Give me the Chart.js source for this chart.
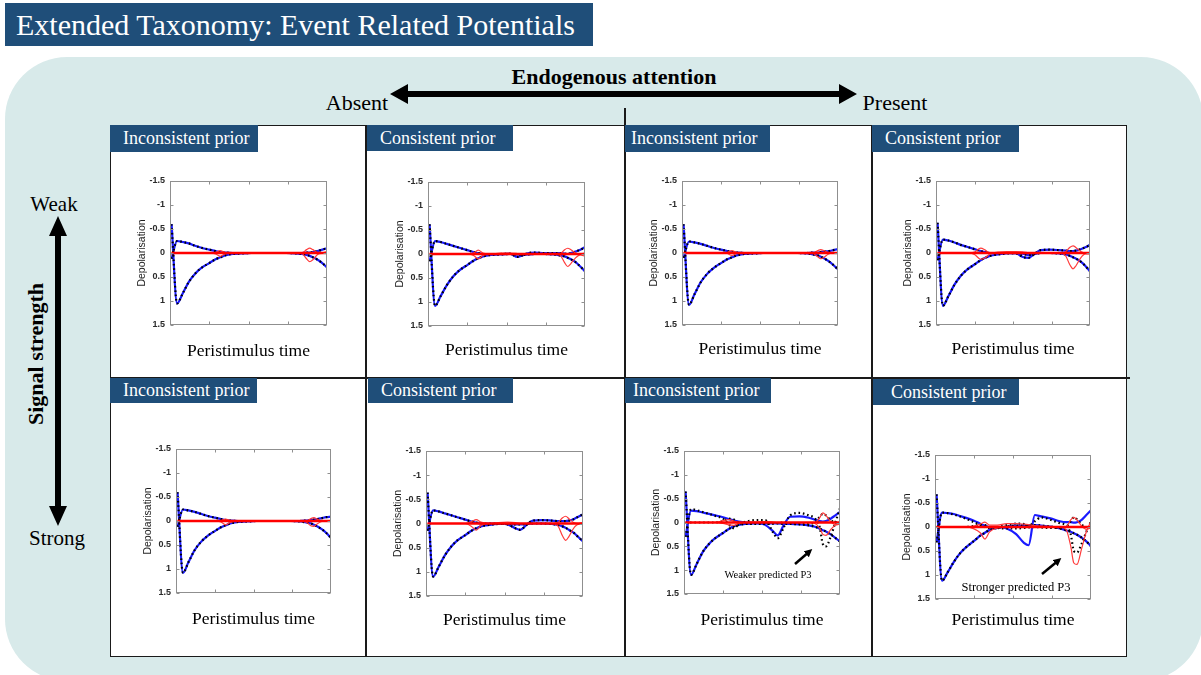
<!DOCTYPE html>
<html><head><meta charset="utf-8">
<script src="https://cdn.jsdelivr.net/npm/chart.js@4.4.1/dist/chart.umd.min.js"></script>
<style>
html,body{margin:0;padding:0;background:#fff;}
#stage{position:relative;width:1201px;height:675px;overflow:hidden;background:#fff;font-family:"Liberation Serif","Times New Roman",serif;}
.abs{position:absolute;}
.ctr{position:absolute;transform:translate(-50%,-50%);white-space:nowrap;line-height:1;color:#000;}
#teal{left:5px;top:57px;width:1198px;height:624px;background:#d8eaea;border-radius:62px;}
#title{left:5px;top:3px;width:577px;height:43px;background:#1f4e79;color:#fff;font-size:30px;line-height:43px;padding-left:11px;white-space:nowrap;}
#grid{left:110px;top:125px;width:1017px;height:532px;background:#fff;border:1.5px solid #1a1a1a;box-sizing:border-box;}
.vl{position:absolute;width:1.5px;background:#1a1a1a;}
.hl{position:absolute;height:1.5px;background:#1a1a1a;}
.badge{position:absolute;background:#1f4e79;color:#fff;font-size:18px;padding-left:13px;box-sizing:border-box;white-space:nowrap;}
canvas{position:absolute;}
svg{position:absolute;left:0;top:0;}
</style>
</head>
<body>
<div id="stage">
  <div id="teal" class="abs"></div>
  <div id="title" class="abs">Extended Taxonomy: Event Related Potentials</div>
  <div class="ctr" style="left:614px;top:77px;font-size:22px;font-weight:bold;">Endogenous attention</div>
  <div class="ctr" style="left:357px;top:103px;font-size:22px;">Absent</div>
  <div class="ctr" style="left:895px;top:103px;font-size:22px;">Present</div>
  <div class="ctr" style="left:54px;top:204px;font-size:21px;">Weak</div>
  <div class="ctr" style="left:57px;top:538px;font-size:21px;">Strong</div>
  <div class="ctr" style="left:36px;top:354px;font-size:22px;font-weight:bold;transform:translate(-50%,-50%) rotate(-90deg);">Signal strength</div>
  <div id="grid" class="abs"></div>
  <div class="vl" style="left:365px;top:125px;height:532px;"></div>
  <div class="vl" style="left:624px;top:108px;height:549px;"></div>
  <div class="vl" style="left:871px;top:125px;height:532px;"></div>
  <div class="hl" style="left:110px;top:377px;width:1020px;"></div>

  <div class="badge" style="left:110px;top:125px;width:148px;height:27px;line-height:27px;">Inconsistent prior</div>
  <div class="badge" style="left:367px;top:125px;width:146px;height:26px;line-height:26px;">Consistent prior</div>
  <div class="badge" style="left:625px;top:125px;width:145px;height:27px;line-height:27px;padding-left:6px;">Inconsistent prior</div>
  <div class="badge" style="left:872px;top:125px;width:147px;height:27px;line-height:27px;">Consistent prior</div>
  <div class="badge" style="left:110px;top:378px;width:147px;height:25px;line-height:25px;">Inconsistent prior</div>
  <div class="badge" style="left:368px;top:378px;width:145px;height:25px;line-height:25px;">Consistent prior</div>
  <div class="badge" style="left:625px;top:378px;width:146px;height:25px;line-height:25px;padding-left:8px;">Inconsistent prior</div>
  <div class="badge" style="left:873px;top:379px;width:146px;height:26px;line-height:26px;padding-left:18px;">Consistent prior</div>

  <canvas id="c0"></canvas><canvas id="c1"></canvas><canvas id="c2"></canvas><canvas id="c3"></canvas>
  <canvas id="c4"></canvas><canvas id="c5"></canvas><canvas id="c6"></canvas><canvas id="c7"></canvas>

  <div class="ctr" style="left:768px;top:575px;font-size:10.5px;">Weaker predicted P3</div>
  <div class="ctr" style="left:1016px;top:587px;font-size:12.5px;">Stronger predicted P3</div>

  <svg width="1201" height="675" viewBox="0 0 1201 675">
    <defs>
      <marker id="ah" markerWidth="8" markerHeight="8" refX="5" refY="4" orient="auto" markerUnits="userSpaceOnUse">
        <path d="M0,0 L8,4 L0,8 z" fill="#000"/>
      </marker>
    </defs>
    <polygon fill="#000" points="390,94 408,84 408,91 839,91 839,84 857,94 839,104 839,97 408,97 408,104"/>
    <polygon fill="#000" points="58,216 67,236 61,236 61,506 67,506 58,526 49,506 55,506 55,236 49,236"/>
    <line x1="795" y1="564" x2="810" y2="551" stroke="#000" stroke-width="2.5" marker-end="url(#ah)"/>
    <line x1="1042" y1="574" x2="1059" y2="560" stroke="#000" stroke-width="2.5" marker-end="url(#ah)"/>
  </svg>
</div>
<script>
// ---- data ----
const time = [0.01,0.045,0.08,0.12,0.16,0.2,0.25,0.29,0.32,0.35,0.4,0.46,0.52,0.57,0.6,0.64,0.68,0.74,0.8,0.84,0.87,0.89,0.91,0.94,0.97,1.0];
const yTickValues = [-1.5,-1,-0.5,0,0.5,1,1.5];
const yTickLabels = ['-1.5','-1','-0.5','0','0.5','1','1.5'];
const xTickValues = [0.25,0.5,0.75];
const zeroLine = [0,0,0,0,0,0,0,0,0,0,0,0,0,0,0,0,0,0,0,0,0,0,0,0,0,0];

// Weak signal, attention absent, inconsistent prior
const p1BlueA = [-0.6,1.05,0.85,0.6,0.43,0.31,0.21,0.13,0.09,0.05,0.02,0.01,0,0,0,0,0,0,0.01,0.02,0.04,0.06,0.09,0.14,0.21,0.3];
const p1BlueB = [0.12,-0.25,-0.23,-0.2,-0.15,-0.11,-0.07,-0.04,-0.02,-0.01,0,0,0,0,0,0,0,0,0,0,-0.01,-0.01,-0.02,-0.04,-0.07,-0.1];
const p1RedUp = [0,0,0,0,0,0,0,-0.01,-0.05,-0.01,0,0,0,0,0,0,0,0,0,0,-0.07,-0.1,-0.07,-0.01,0,-0.03];
const p1RedDown = [0,0,0,0,0,0,0,0.02,0.07,0.02,0,0,0,0,0,0,0,0,0,0.01,0.12,0.18,0.14,0.03,0.01,0.01];
// Weak signal, attention absent, consistent prior
const p2BlueA = [-0.62,1.08,0.88,0.65,0.47,0.34,0.23,0.14,0.09,0.05,0.02,0.01,0,0.01,0.02,0.01,0,0,0.01,0.03,0.05,0.08,0.11,0.17,0.26,0.36];
const p2BlueB = [0.15,-0.27,-0.25,-0.21,-0.17,-0.13,-0.08,-0.04,-0.02,0,0,0,-0.01,0.06,0.03,-0.02,-0.03,-0.02,-0.02,-0.02,-0.01,0,-0.02,-0.05,-0.09,-0.14];
const p2RedUp = [0,0,0,0,0,0,0,-0.02,-0.08,-0.02,0,-0.02,-0.02,-0.01,0,0,0,0,0,0,-0.09,-0.12,-0.09,-0.02,0,-0.02];
const p2RedDown = [0,0,0,0,0,0,0,0.03,0.1,0.03,0,0,0,0,0,0,0,0,0,0.02,0.18,0.26,0.2,0.08,0.02,0.05];
// Weak signal, attention present, inconsistent prior
const p3BlueA = [-0.6,1.08,0.86,0.61,0.44,0.32,0.21,0.13,0.09,0.05,0.02,0.01,0,0,0,0,0,0,0.01,0.03,0.05,0.08,0.11,0.17,0.25,0.34];
const p3BlueB = [0.1,-0.24,-0.22,-0.19,-0.15,-0.11,-0.07,-0.04,-0.02,-0.01,0,0,0,0,0,0,0,0,0,-0.01,-0.01,-0.02,-0.03,-0.04,-0.06,-0.08];
const p3RedUp = [0,0,0,0,0,0,0,-0.01,-0.05,-0.01,0,0,0,0,0,0,0,0,0,0,-0.05,-0.07,-0.05,-0.01,0,0];
const p3RedDown = [0,0,0,0,0,0,0,0.01,0.05,0.01,0,0,0,0,0,0,0,0,0,0.01,0.08,0.12,0.09,0.02,0,0.01];
// Weak signal, attention present, consistent prior
const p4BlueA = [-0.63,1.1,0.9,0.66,0.48,0.35,0.24,0.15,0.1,0.06,0.03,0.01,0,0.02,0.04,0.02,0,0,0.01,0.03,0.06,0.09,0.12,0.18,0.27,0.38];
const p4BlueB = [0.15,-0.28,-0.26,-0.22,-0.17,-0.13,-0.08,-0.04,-0.02,0,0,0,0.01,0.09,0.1,0.02,-0.06,-0.07,-0.06,-0.05,-0.04,-0.04,-0.05,-0.08,-0.12,-0.17];
const p4RedUp = [0,0,0,0,0,0,-0.02,-0.1,-0.06,0,-0.02,-0.03,-0.03,-0.02,-0.01,0,0,0,0,-0.02,-0.12,-0.15,-0.11,-0.03,0,-0.01];
const p4RedDown = [0,0,0,0,0,0,0.03,0.13,0.1,0.02,0,0,0,0,0,0,0,0,0,0.05,0.25,0.33,0.26,0.1,0.02,0.02];
// Strong signal, attention absent, inconsistent prior
const p5BlueA = [-0.6,1.08,0.86,0.61,0.44,0.32,0.21,0.13,0.09,0.05,0.02,0.01,0,0,0,0,0,0,0.01,0.03,0.05,0.08,0.11,0.17,0.25,0.35];
const p5BlueB = [0.12,-0.24,-0.22,-0.19,-0.15,-0.11,-0.07,-0.04,-0.02,-0.01,0,0,0,0,0,0,0,0,0,-0.01,-0.02,-0.03,-0.04,-0.06,-0.08,-0.09];
const p5RedUp = [0,0,0,0,0,0,0,-0.01,-0.04,-0.01,0,0,0,0,0,0,0,0,0,0,-0.05,-0.07,-0.04,0,0,0];
const p5RedDown = [0,0,0,0,0,0,0,0.02,0.08,0.03,0,0,0,0,0,0,0,0,0,0.02,0.1,0.11,0.06,0.01,0,0];
// Strong signal, attention absent, consistent prior
const p6BlueA = [-0.64,1.1,0.9,0.66,0.48,0.35,0.24,0.15,0.1,0.06,0.03,0.01,0.01,0.02,0.02,0.01,0,0,0.01,0.03,0.06,0.09,0.13,0.19,0.28,0.37];
const p6BlueB = [0.15,-0.27,-0.25,-0.21,-0.17,-0.13,-0.08,-0.04,-0.02,0,0,0,0.02,0.1,0.13,0.03,-0.06,-0.07,-0.06,-0.05,-0.05,-0.05,-0.06,-0.09,-0.14,-0.19];
const p6RedUp = [0,0,0,0,0,0,0,-0.04,-0.08,-0.03,0,-0.02,-0.03,-0.02,0,0,0,0,0,-0.02,-0.12,-0.15,-0.1,-0.02,0,-0.02];
const p6RedDown = [0,0,0,0,0,0,0,0.06,0.14,0.04,0,0,0,0,0,0,0,0,0,0.05,0.26,0.35,0.27,0.1,0.02,0.02];
// Strong signal, attention present, inconsistent prior
const p7BlueA = [-0.65,1.1,0.88,0.62,0.45,0.33,0.22,0.13,0.08,0.05,0.03,0.02,0.02,0.02,0.02,0.03,0.03,0.04,0.06,0.09,0.13,0.16,0.19,0.25,0.32,0.4];
const p7BlueB = [0.3,-0.25,-0.24,-0.21,-0.18,-0.15,-0.11,-0.07,-0.04,-0.02,0,0.01,0.05,0.18,0.27,0.05,-0.12,-0.13,-0.1,-0.06,-0.03,-0.02,-0.03,-0.08,-0.15,-0.22];
const p7DotB = [0.3,-0.28,-0.26,-0.22,-0.18,-0.14,-0.08,0.05,0.12,0.04,-0.02,-0.05,-0.05,0.2,0.33,0.1,-0.15,-0.2,-0.15,-0.08,0.1,0.45,0.5,0.3,0,-0.3];
const p7DotC = [0,0,0,0,0,0,-0.03,-0.08,-0.06,0,0.02,0.03,0.03,0.02,0.01,0,0.01,0.02,0.02,0,-0.12,-0.18,-0.15,-0.05,0,0.02];
const p7RedUp = [0,0,0,0,0,0,-0.04,-0.06,-0.03,0,0,-0.01,-0.02,-0.01,0,0,0,0,0,0,-0.1,-0.2,-0.15,-0.02,0.05,0.03];
const p7RedDown = [0,0,0,0,0,0,0.02,0.05,0.06,0.02,0,0,0,0,0,0,0,0,0,0.02,0.12,0.25,0.27,0.15,0.05,0.02];
// Strong signal, attention present, consistent prior
const p8BlueA = [-0.68,1.12,0.95,0.73,0.55,0.42,0.29,0.18,0.12,0.06,0.02,-0.01,-0.03,-0.03,-0.04,-0.04,-0.03,-0.01,0.03,0.07,0.1,0.13,0.16,0.22,0.3,0.4];
const p8BlueB = [0.32,-0.3,-0.29,-0.27,-0.23,-0.19,-0.13,-0.07,-0.03,0,0,0.03,0.15,0.33,0.38,-0.25,-0.22,-0.18,-0.12,-0.1,-0.1,-0.09,-0.1,-0.15,-0.25,-0.35];
const p8DotB = [0.32,-0.3,-0.29,-0.26,-0.22,-0.17,-0.1,-0.04,0,0.02,0,-0.04,-0.07,-0.06,-0.02,-0.12,-0.2,-0.15,-0.08,-0.03,0.15,0.5,0.53,0.35,0.1,-0.12];
const p8DotC = [0,0,0,0,0,0,-0.02,-0.05,-0.04,0,0.02,0.03,0.03,0.02,0.01,0,0.01,0.02,0.02,0,-0.12,-0.2,-0.16,-0.05,0,0];
const p8RedUp = [0,0,0,0,0,0,-0.02,-0.06,-0.1,-0.04,-0.04,-0.07,-0.07,-0.06,-0.05,-0.03,-0.02,-0.01,0,0,-0.15,-0.2,-0.15,-0.02,0.05,0.02];
const p8RedDown = [0,0,0,0,0,0,0.04,0.12,0.25,0.1,0.02,0,0,0,0,0,0,0,0,0.05,0.4,0.75,0.78,0.45,0.1,-0.12];

// ---- panels (series references) and layout ----
const panelSeries = [
  {a:p1BlueA, b:p1BlueB, db:p1BlueB, dc:null, ru:p1RedUp, rd:p1RedDown},
  {a:p2BlueA, b:p2BlueB, db:p2BlueB, dc:null, ru:p2RedUp, rd:p2RedDown},
  {a:p3BlueA, b:p3BlueB, db:p3BlueB, dc:null, ru:p3RedUp, rd:p3RedDown},
  {a:p4BlueA, b:p4BlueB, db:p4BlueB, dc:null, ru:p4RedUp, rd:p4RedDown},
  {a:p5BlueA, b:p5BlueB, db:p5BlueB, dc:null, ru:p5RedUp, rd:p5RedDown},
  {a:p6BlueA, b:p6BlueB, db:p6BlueB, dc:null, ru:p6RedUp, rd:p6RedDown},
  {a:p7BlueA, b:p7BlueB, db:p7DotB, dc:p7DotC, ru:p7RedUp, rd:p7RedDown},
  {a:p8BlueA, b:p8BlueB, db:p8DotB, dc:p8DotC, ru:p8RedUp, rd:p8RedDown}
];
// plot-box [left, top, right, bottom, x-axis band height] in page pixels
const panelBoxes = [
  [170,181,327,325,36.5],[428,182,585,326,34.5],[682,181,838,325,34.5],[936,181,1090,325,34.5],
  [176,449,331,593,36.5],[426,451,583,596,34.5],[684,451,840,594,36.5],[935,455,1091,599,31.5]
];

const BLUE = '#1a1aff', RED = '#ff0000', RED_THIN = '#ff3b3b';
const Y_AXIS_W = 34, PAD_T = 12, PAD_R = 6;

function pts(arr){ return arr.map((v,i)=>({x:time[i], y:v})); }
function ds(arr, color, w, dash){
  return {data:pts(arr), borderColor:color, borderWidth:w, borderDash:dash||[], borderCapStyle:'butt',
          pointRadius:0, cubicInterpolationMode:'monotone', fill:false};
}

const framePlugin = {
  id:'frame',
  afterDatasetsDraw(chart){
    const {ctx, chartArea:a, scales:{x, y}} = chart;
    ctx.save();
    ctx.strokeStyle = '#8f8f8f'; ctx.lineWidth = 1;
    const l = Math.round(a.left)+0.5, t = Math.round(a.top)+0.5, r = Math.round(a.right)-0.5, b = Math.round(a.bottom)-0.5;
    ctx.strokeRect(l, t, r-l, b-t);
    ctx.beginPath();
    yTickValues.forEach(v=>{ const py = Math.round(y.getPixelForValue(v))+0.5;
      ctx.moveTo(l,py); ctx.lineTo(l+3,py); ctx.moveTo(r,py); ctx.lineTo(r-3,py); });
    xTickValues.forEach(v=>{ const px = Math.round(x.getPixelForValue(v))+0.5;
      ctx.moveTo(px,t); ctx.lineTo(px,t+3); ctx.moveTo(px,b); ctx.lineTo(px,b-3); });
    ctx.stroke();
    ctx.restore();
  }
};

panelSeries.forEach((s, i)=>{
  const [bl, bt, br, bb, xh] = panelBoxes[i];
  const cv = document.getElementById('c'+i);
  const w = (br-bl) + Y_AXIS_W + PAD_R, h = Math.round((bb-bt) + PAD_T + xh + 2);
  cv.width = w; cv.height = h;
  cv.style.left = (bl - Y_AXIS_W)+'px'; cv.style.top = (bt - PAD_T)+'px';
  cv.style.width = w+'px'; cv.style.height = h+'px';
  const datasets = [
    ds(zeroLine, RED, 2.3),
    ds(s.ru, RED_THIN, 1.2),
    ds(s.rd, RED_THIN, 1.2)
  ];
  if (s.dc) datasets.push(ds(s.dc, '#000', 2.2, [1.6,2.8]));
  datasets.push(ds(s.a, '#000', 2.2, [1.6,2.8]));
  datasets.push(ds(s.db, '#000', 2.2, [1.6,2.8]));
  datasets.push(ds(s.a, BLUE, 2.2));
  datasets.push(ds(s.b, BLUE, 2.2));
  new Chart(cv, {
    type:'line',
    data:{datasets},
    plugins:[framePlugin],
    options:{
      responsive:false, animation:false, devicePixelRatio:1, events:[],
      layout:{padding:{left:0, top:PAD_T, right:PAD_R, bottom:h - PAD_T - (bb-bt) - xh}},
      plugins:{legend:{display:false}, tooltip:{enabled:false}},
      scales:{
        x:{type:'linear', min:0, max:1,
           ticks:{display:false}, grid:{display:false, drawTicks:false}, border:{display:false},
           title:{display:true, text:'Peristimulus time', color:'#000', padding:0,
                  font:{family:'"Liberation Serif","Times New Roman",serif', size:17.5}},
           afterFit(sc){ sc.height = xh; }},
        y:{type:'linear', min:-1.5, max:1.5, reverse:true,
           grid:{display:false, drawTicks:false}, border:{display:false},
           afterBuildTicks(sc){ sc.ticks = yTickValues.map(v=>({value:v})); },
           ticks:{padding:5, color:'#2a2a2a', font:{family:'"Liberation Sans",Arial,sans-serif', size:9, weight:'bold'},
                  callback:(v)=>yTickLabels[yTickValues.indexOf(v)]},
           title:{display:true, text:'Depolarisation', color:'#1e1e1e', padding:0,
                  font:{family:'"Liberation Sans",Arial,sans-serif', size:10.5}},
           afterFit(sc){ sc.width = Y_AXIS_W; }}
      }
    }
  });
});
</script>
</body></html>
